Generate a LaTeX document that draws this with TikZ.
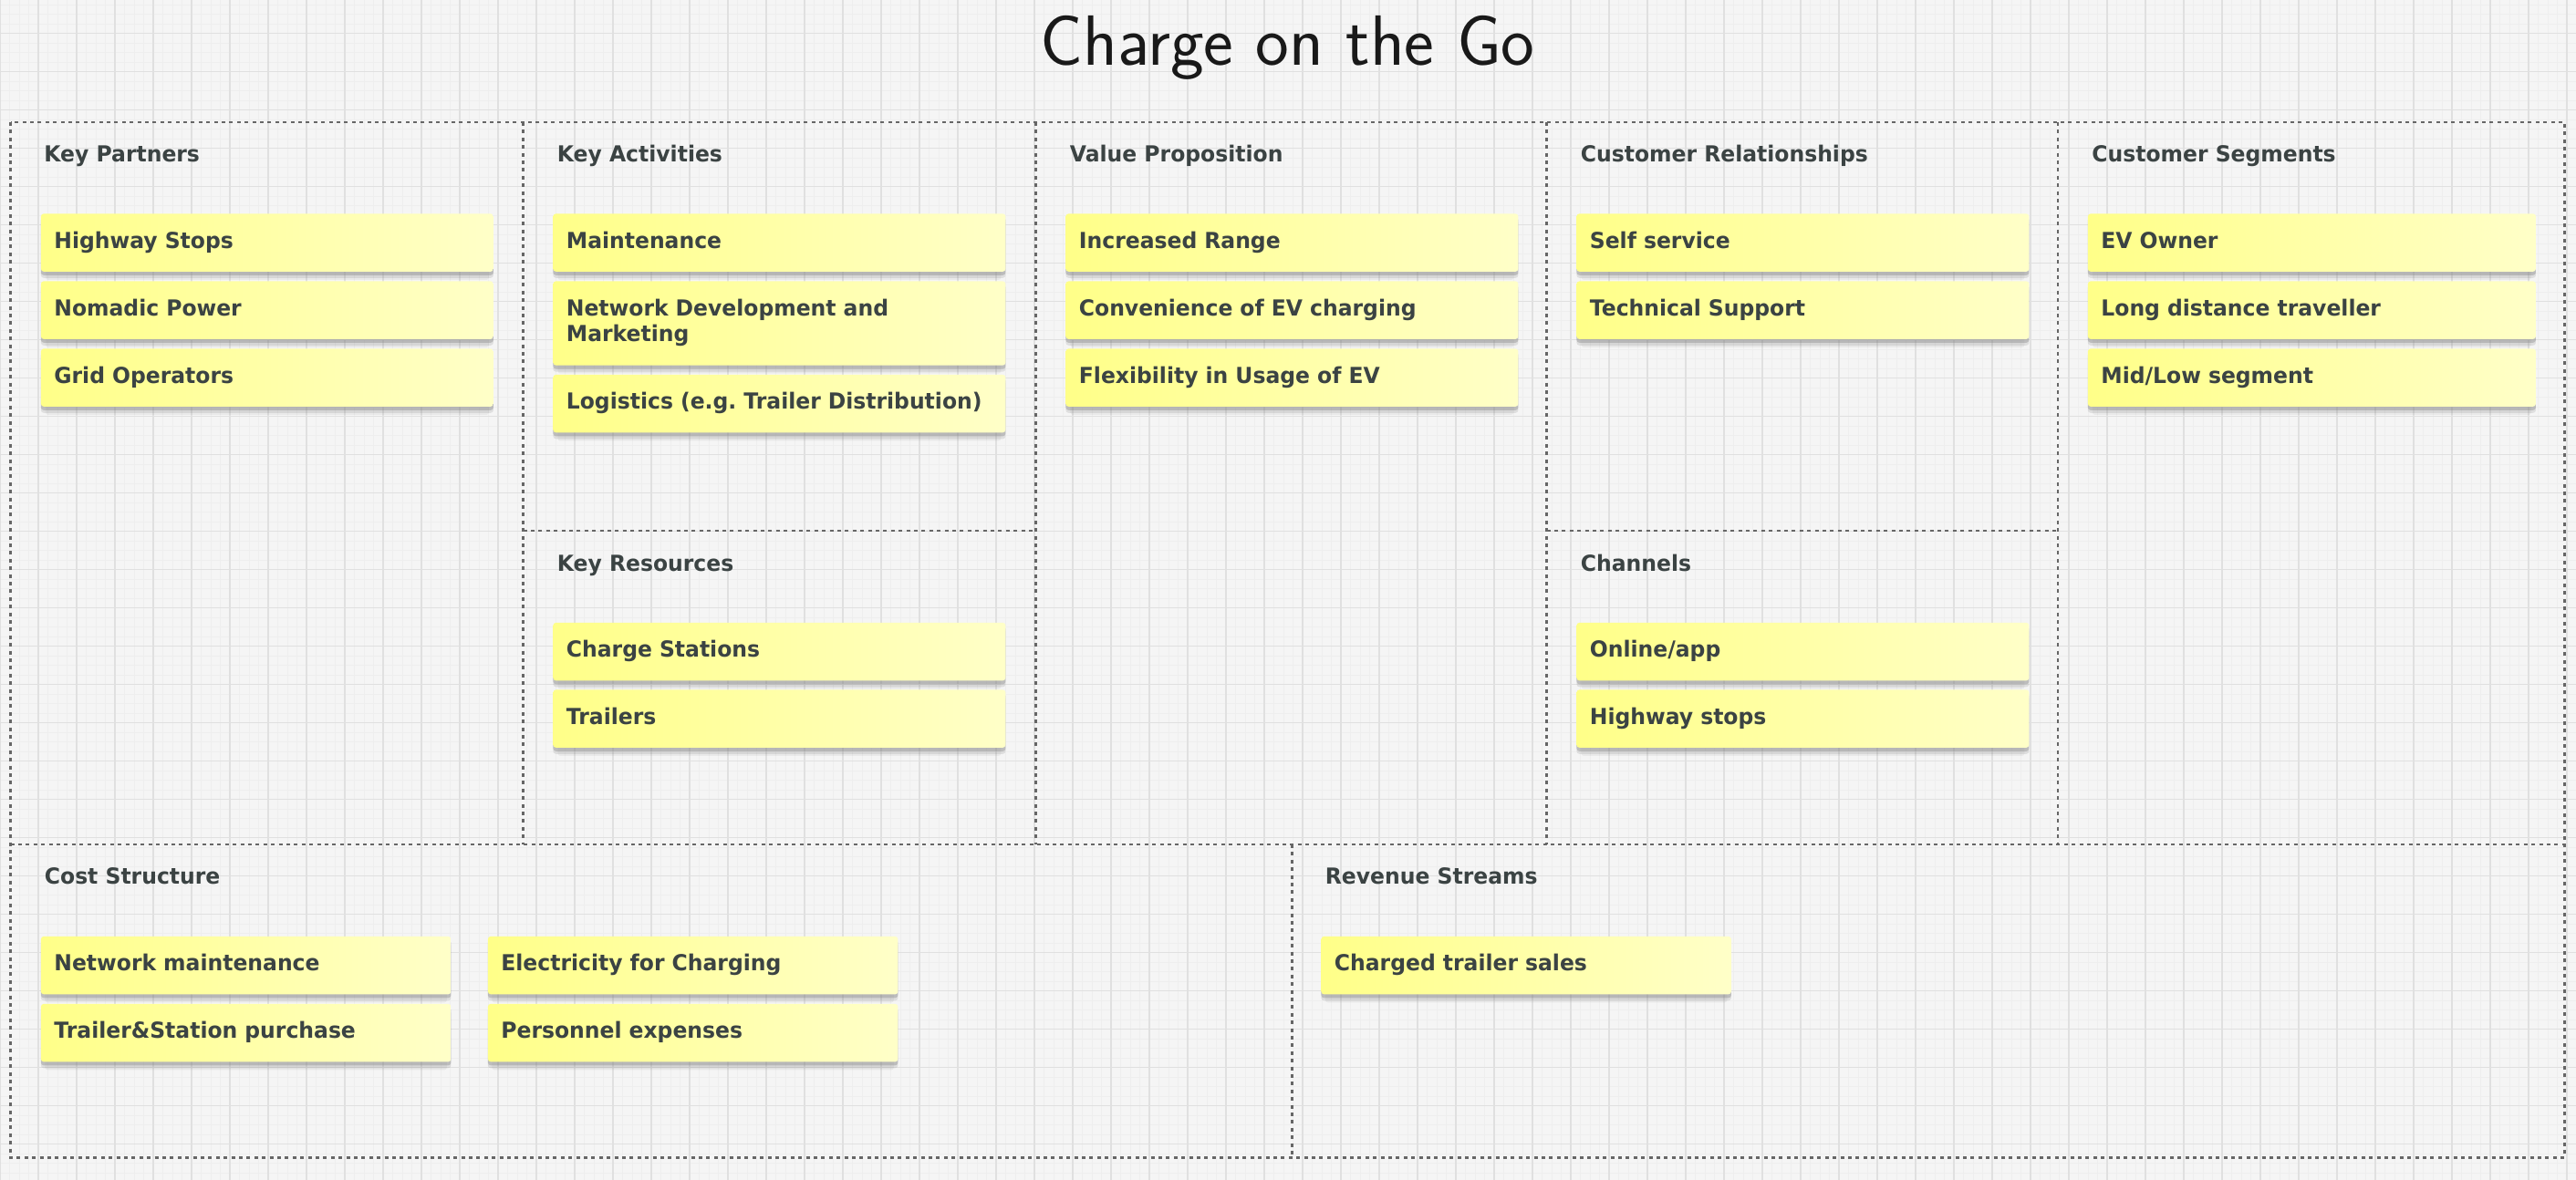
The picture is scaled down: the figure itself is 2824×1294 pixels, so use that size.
\documentclass[tikz,border=0pt]{standalone}
\usepackage{xcolor}
\usepackage{fontspec}
\usepackage{tikz}
\usetikzlibrary{shadows}

\newfontfamily\cardfont{DejaVu Sans}[FakeStretch=0.97]
\newcommand{\notefont}{\cardfont\bfseries\fontsize{12.1}{14.4}\selectfont}
\newcommand{\titlefont}{\sffamily\fontsize{39}{41}\selectfont}

\definecolor{paper}{HTML}{F5F5F5}
\definecolor{gridmajor}{HTML}{E0E0E0}
\definecolor{gridminor}{HTML}{EEEEEE}
\definecolor{frameclr}{HTML}{666666}
\definecolor{ink}{HTML}{3B4343}
\definecolor{notelow}{HTML}{FFFF88}
\definecolor{notehigh}{HTML}{FFFFC8}

\begin{document}
\begin{tikzpicture}[x=0.5pt, y=-0.5pt,
    frame/.style={draw=frameclr, line width=1.3pt, dash pattern=on 2pt off 2.2pt},
    head/.style={anchor=base west, inner sep=0pt, text=ink, font=\notefont},
    note/.style={anchor=north west, rectangle, rounded corners=1.5pt,
        left color=notelow, right color=notehigh,
        drop shadow={shadow xshift=0pt, shadow yshift=-5pt, shadow scale=0.98, opacity=0.1},
        drop shadow={shadow xshift=0pt, shadow yshift=-3.5pt, opacity=0.18},
        drop shadow={shadow xshift=0pt, shadow yshift=-2pt, opacity=0.35},
        text=ink, font=\notefont, align=left, inner xsep=7.25pt, inner ysep=9.85pt,
        text height=9pt, text depth=3pt, text width=233.5pt},
    wide/.style={text width=231pt},
    short/.style={text width=210.25pt}]
    \useasboundingbox (0,0) rectangle (2824,1294);
    \fill[paper] (0,0) rectangle (2824,1294);
    \foreach \gx in {0,10.5,...,2824} \draw[gridminor, line width=0.3pt] (\gx,0) -- (\gx,1294);
    \foreach \gy in {5.2,15.7,...,1294} \draw[gridminor, line width=0.3pt] (0,\gy) -- (2824,\gy);
    \foreach \gx in {0,42,...,2824} \draw[gridmajor, line width=0.6pt] (\gx,0) -- (\gx,1294);
    \foreach \gy in {36.7,78.7,...,1294} \draw[gridmajor, line width=0.6pt] (0,\gy) -- (2824,\gy);

    \node[anchor=base, inner sep=0pt, font=\titlefont, text=black!90] (title) at (1411.5,72) {Charge on the Go};

    \draw[frame] (11.5,134) rectangle (2811.5,1269.5);
    \draw[frame] (573.5,134) -- (573.5,926);
    \draw[frame] (1135.5,134) -- (1135.5,926);
    \draw[frame] (1695.5,134) -- (1695.5,926);
    \draw[frame] (2256,134) -- (2256,926);
    \draw[frame] (11.5,926) -- (2811.5,926);
    \draw[frame] (1416.5,926) -- (1416.5,1269.5);
    \draw[frame] (573.5,582) -- (1135.5,582);
    \draw[frame] (1695.5,582) -- (2256,582);

    \node[head] (kpHead) at (48,178) {Key Partners};
    \node[head] (kaHead) at (610.5,178) {Key Activities};
    \node[head] (vpHead) at (1172.5,178) {Value Proposition};
    \node[head] (crHead) at (1732.5,178) {Customer Relationships};
    \node[head] (csHead) at (2293,178) {Customer Segments};
    \node[head] (krHead) at (610.5,626) {Key Resources};
    \node[head] (chHead) at (1732.5,626) {Channels};
    \node[head] (costHead) at (48.5,969.5) {Cost Structure};
    \node[head] (rsHead) at (1452.5,969.5) {Revenue Streams};

    \node[note] (kpHighway) at (44.5,234) {Highway Stops};
    \node[note] (kpNomadic) at (44.5,308) {Nomadic Power};
    \node[note] (kpGrid) at (44.5,382) {Grid Operators};

    \node[note] (kaMaint) at (606,234) {Maintenance};
    \node[note, text depth=17.4pt] (kaNetwork) at (606,308) {Network Development and\\Marketing};
    \node[note] (kaLogistics) at (606,410.5) {Logistics (e.g.\ Trailer Distribution)};
    \node[note] (krStations) at (606,682.5) {Charge Stations};
    \node[note] (krTrailers) at (606,756) {Trailers};

    \node[note] (vpRange) at (1168,234) {Increased Range};
    \node[note] (vpConvenience) at (1168,308) {Convenience of EV charging};
    \node[note] (vpFlexibility) at (1168,382) {Flexibility in Usage of EV};

    \node[note] (crSelf) at (1728,234) {Self service};
    \node[note] (crSupport) at (1728,308) {Technical Support};
    \node[note] (chOnline) at (1728,682.5) {Online/app};
    \node[note] (chHighway) at (1728,756) {Highway stops};

    \node[note, wide] (csOwner) at (2288.5,234) {EV Owner};
    \node[note, wide] (csTraveller) at (2288.5,308) {Long distance traveller};
    \node[note, wide] (csMidLow) at (2288.5,382) {Mid/Low segment};

    \node[note, short] (costMaint) at (44.5,1026.5) {Network maintenance};
    \node[note, short] (costPurchase) at (44.5,1100.5) {Trailer\&Station purchase};
    \node[note, short] (costElectricity) at (534.5,1026.5) {Electricity for Charging};
    \node[note, short] (costPersonnel) at (534.5,1100.5) {Personnel expenses};
    \node[note, short] (rsSales) at (1448,1026.5) {Charged trailer sales};
\end{tikzpicture}
\end{document}
